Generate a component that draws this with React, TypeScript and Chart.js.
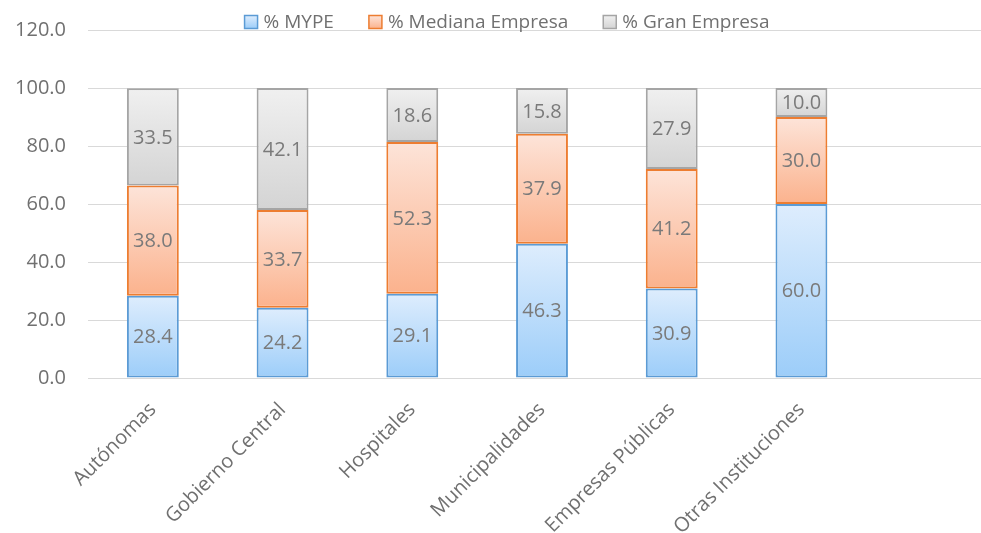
import React, { useEffect, useRef } from "react";
import { Chart, registerables } from "chart.js";

Chart.register(...registerables);

const categories = [
  "Autónomas",
  "Gobierno Central",
  "Hospitales",
  "Municipalidades",
  "Empresas Públicas",
  "Otras Instituciones",
  "",
];
const seriesNames = ["% MYPE", "% Mediana Empresa", "% Gran Empresa"];
const mype = [28.4, 24.2, 29.1, 46.3, 30.9, 60.0];
const mediana = [38.0, 33.7, 52.3, 37.9, 41.2, 30.0];
const gran = [33.5, 42.1, 18.6, 15.8, 27.9, 10.0];
const yTicks = [0, 20, 40, 60, 80, 100, 120];

const series = [mype, mediana, gran];
const lightColors = ["#deedfd", "#fde4d9", "#f0f0f0"];
const darkColors = ["#9ccdf9", "#fbb28d", "#d4d4d4"];
const borderColors = ["#5b9bd5", "#ed7d31", "#a5a5a5"];

const FONT = "'Open Sans', sans-serif";
const TEXT = "#707070";

const CW = 1000;
const CH = 559;

export default function App() {
  const ref = useRef<HTMLCanvasElement | null>(null);

  useEffect(() => {
    if (!ref.current) return;

    const gradientFor = (di: number) => (ctx: any) => {
      if (ctx.type !== "data") return lightColors[di];
      const chart = ctx.chart;
      const ys = chart.scales && chart.scales.y;
      if (!chart.chartArea || !ys) return lightColors[di];
      const i = ctx.dataIndex;
      let base = 0;
      for (let k = 0; k < di; k++) base += series[k][i] || 0;
      const top = base + (series[di][i] || 0);
      const y0 = ys.getPixelForValue(top);
      const y1 = ys.getPixelForValue(base);
      if (!isFinite(y0) || !isFinite(y1) || y0 === y1) return lightColors[di];
      const g = chart.ctx.createLinearGradient(0, y0, 0, y1);
      g.addColorStop(0, lightColors[di]);
      g.addColorStop(1, darkColors[di]);
      return g;
    };

    const valueLabels = {
      id: "valueLabels",
      afterDatasetsDraw(chart: any) {
        const c = chart.ctx;
        c.save();
        c.font = `20px ${FONT}`;
        c.fillStyle = "#7a7a7a";
        c.textAlign = "center";
        c.textBaseline = "middle";
        chart.data.datasets.forEach((ds: any, di: number) => {
          const meta = chart.getDatasetMeta(di);
          meta.data.forEach((el: any, i: number) => {
            const v = ds.data[i];
            if (v == null) return;
            c.fillText(Number(v).toFixed(1), el.x, (el.y + el.base) / 2 + 1);
          });
        });
        c.restore();
      },
    };

    const customLegend = {
      id: "customLegend",
      afterDraw(chart: any) {
        const c = chart.ctx;
        c.save();
        c.font = `19px ${FONT}`;
        c.textBaseline = "middle";
        c.textAlign = "left";
        const box = 13;
        const gap = 6;
        const spacing = 35;
        const widths = seriesNames.map((n) => box + gap + c.measureText(n).width);
        const total = widths.reduce((a, b) => a + b, 0) + spacing * (widths.length - 1);
        let x = chart.width / 2 + 7 - total / 2;
        const y = 22;
        seriesNames.forEach((n, i) => {
          const g = c.createLinearGradient(0, y - box / 2, 0, y + box / 2);
          g.addColorStop(0, lightColors[i]);
          g.addColorStop(1, darkColors[i]);
          c.fillStyle = g;
          c.fillRect(x, y - box / 2, box, box);
          c.strokeStyle = borderColors[i];
          c.lineWidth = 1.5;
          c.strokeRect(x, y - box / 2, box, box);
          c.fillStyle = TEXT;
          c.fillText(n, x + box + gap, y + 1);
          x += widths[i] + spacing;
        });
        c.restore();
      },
    };

    const chart = new Chart(ref.current, {
      type: "bar",
      data: {
        labels: categories,
        datasets: series.map((data, di) => ({
          label: seriesNames[di],
          data,
          backgroundColor: gradientFor(di),
          borderColor: borderColors[di],
          borderWidth: 2,
          borderSkipped: false,
          categoryPercentage: 1,
          barPercentage: 0.4,
        })),
      },
      options: {
        responsive: false,
        animation: false,
        layout: { padding: { top: 30, left: 0, right: 4, bottom: 0 } },
        plugins: {
          legend: { display: false },
          tooltip: { enabled: false },
        },
        scales: {
          x: {
            stacked: true,
            grid: { display: false, drawTicks: false },
            border: { display: true, color: "#d9d9d9" },
            afterFit: (axis: any) => {
              axis.paddingLeft = 0;
              axis.paddingRight = 0;
            },
            ticks: {
              color: TEXT,
              font: { family: FONT, size: 20 },
              minRotation: 45,
              maxRotation: 45,
              padding: 20,
              autoSkip: false,
            },
          },
          y: {
            stacked: true,
            min: 0,
            max: 120,
            afterBuildTicks: (axis: any) => {
              axis.ticks = yTicks.map((v) => ({ value: v }));
            },
            afterFit: (axis: any) => {
              axis.width = 88;
              axis.paddingTop = 0;
              axis.paddingBottom = 0;
            },
            grid: { color: "#d9d9d9", lineWidth: 1, drawTicks: false },
            border: { display: false },
            ticks: {
              color: TEXT,
              font: { family: FONT, size: 20 },
              padding: 22,
              callback: (v: any) => Number(v).toFixed(1),
            },
          },
        },
      },
      plugins: [valueLabels, customLegend],
    });

    return () => chart.destroy();
  }, []);

  return (
    <div
      style={{
        position: "fixed",
        left: 0,
        top: 0,
        width: 981,
        height: 533,
        overflow: "hidden",
        background: "#fff",
      }}
    >
      <canvas ref={ref} width={CW} height={CH} style={{ display: "block" }} />
    </div>
  );
}
